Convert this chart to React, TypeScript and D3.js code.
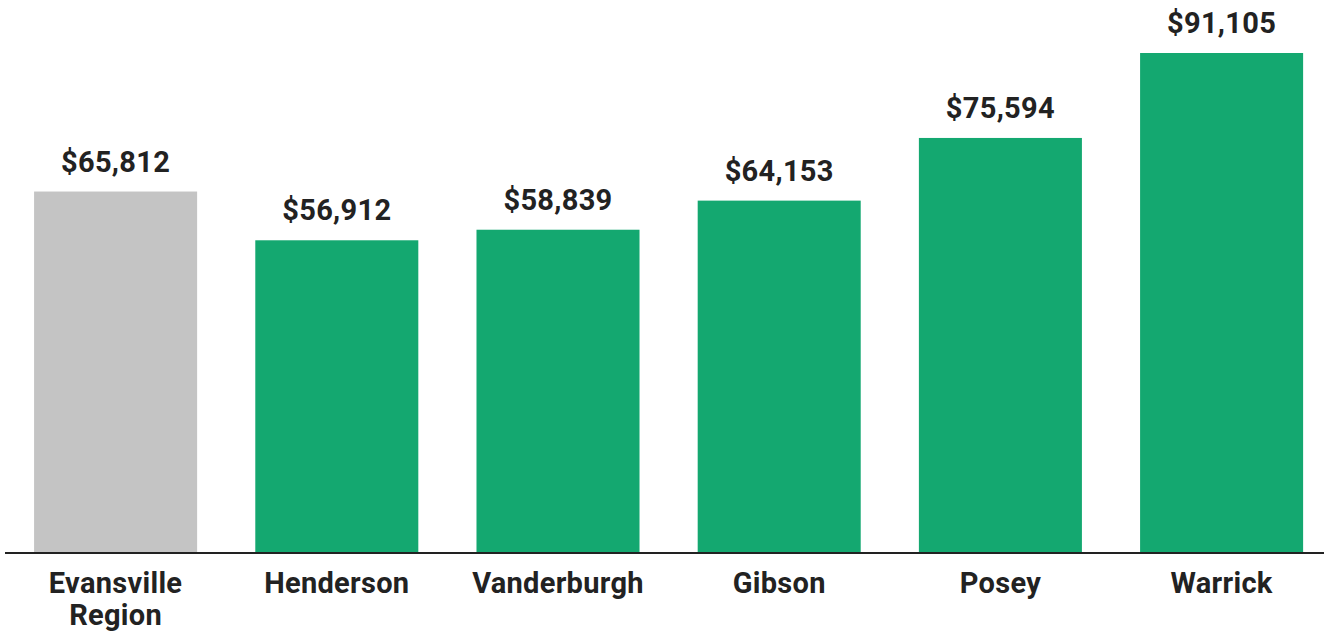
import React, { useEffect, useRef } from "react";
import * as d3 from "d3";

const categories: string[][] = [
  ["Evansville", "Region"],
  ["Henderson"],
  ["Vanderburgh"],
  ["Gibson"],
  ["Posey"],
  ["Warrick"],
];
const values: number[] = [65812, 56912, 58839, 64153, 75594, 91105];
const highlight: boolean[] = [true, false, false, false, false, false];

const width = 1324;
const height = 635;

const App = () => {
  const svgRef = useRef<SVGSVGElement | null>(null);

  useEffect(() => {
    document.body.style.margin = "0";
    const svg = d3.select(svgRef.current);
    svg.selectAll("*").remove();

    const keys = categories.map((c) => c.join(" "));
    const step = 221.2;
    const x = d3
      .scaleBand<string>()
      .domain(keys)
      .range([5, 5 + step * keys.length])
      .paddingInner(0.263)
      .paddingOuter(0.1315);

    const baseline = 552;
    const y = d3.scaleLinear().domain([0, 91105]).range([baseline, 53]);

    const g = svg.append("g");

    g.selectAll("rect")
      .data(values)
      .join("rect")
      .attr("x", (_, i) => x(keys[i])!)
      .attr("y", (d) => y(d))
      .attr("width", x.bandwidth())
      .attr("height", (d) => baseline - y(d))
      .attr("fill", (_, i) => (highlight[i] ? "#c4c4c4" : "#14a870"));

    g.append("line")
      .attr("x1", 5)
      .attr("x2", width)
      .attr("y1", baseline + 1)
      .attr("y2", baseline + 1)
      .attr("stroke", "#222")
      .attr("stroke-width", 2);

    const fmt = d3.format("$,");

    g.selectAll("text.value")
      .data(values)
      .join("text")
      .attr("class", "value")
      .attr("x", (_, i) => x(keys[i])! + x.bandwidth() / 2)
      .attr("y", (d) => y(d) - 20)
      .attr("text-anchor", "middle")
      .style("font-family", "Roboto, sans-serif")
      .style("font-weight", 700)
      .style("font-size", "29px")
      .style("letter-spacing", "0.3px")
      .style("fill", "#222")
      .text((d) => fmt(d));

    const labels = g
      .selectAll("text.cat")
      .data(categories)
      .join("text")
      .attr("class", "cat")
      .attr("x", (_, i) => x(keys[i])! + x.bandwidth() / 2)
      .attr("y", 593)
      .attr("text-anchor", "middle")
      .style("font-family", "Roboto, sans-serif")
      .style("font-weight", 700)
      .style("font-size", "29px")
      .style("letter-spacing", "0.3px")
      .style("fill", "#222");

    labels
      .selectAll("tspan")
      .data((d) => d)
      .join("tspan")
      .attr("x", function () {
        return (this.parentNode as SVGTextElement).getAttribute("x");
      })
      .attr("dy", (_, i) => (i === 0 ? 0 : 32))
      .text((d) => d);
  }, []);

  return (
    <svg
      ref={svgRef}
      width={width}
      height={height}
      style={{ display: "block", background: "#fff" }}
    />
  );
};

export default App;
